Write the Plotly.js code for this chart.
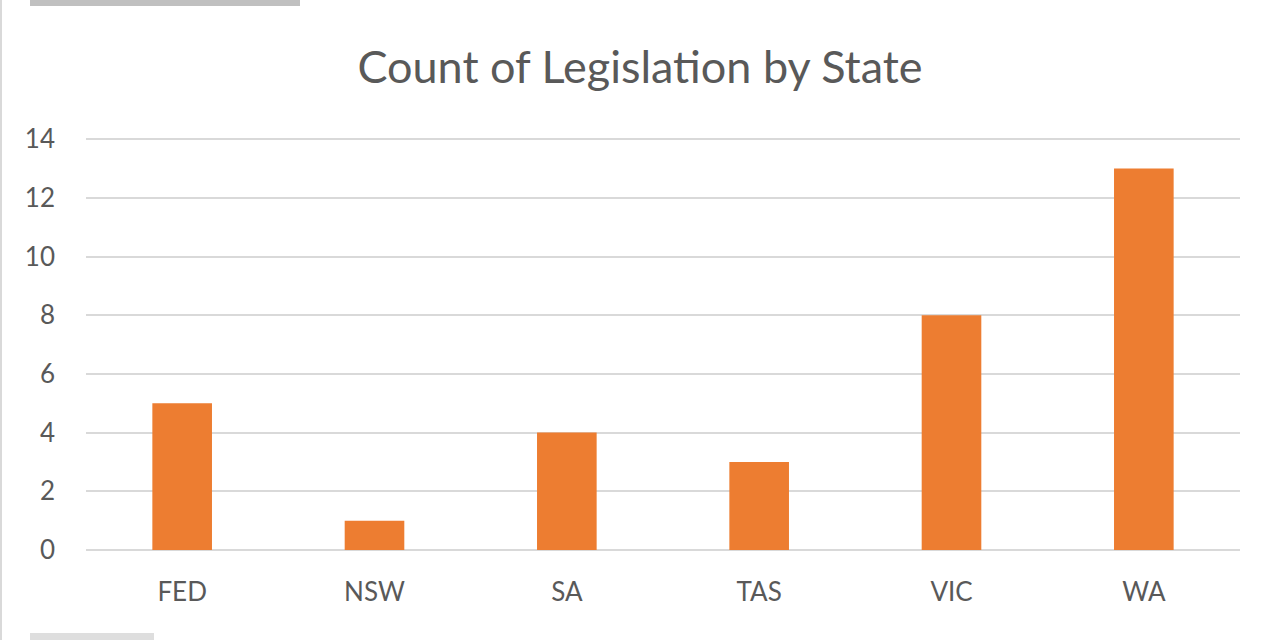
<!DOCTYPE html>
<html>
<head>
<meta charset="utf-8">
<script src="https://cdn.plot.ly/plotly-3.0.1.min.js"></script>
<style>
  html, body { margin: 0; padding: 0; background: #ffffff; }
  #plot { width: 1280px; height: 640px; }
</style>
</head>
<body>
<div id="plot"></div>
<script>
  var STATES = ["FED", "NSW", "SA", "TAS", "VIC", "WA"];
  var COUNTS = [5, 1, 4, 3, 8, 13];
  var Y_TICKS = [0, 2, 4, 6, 8, 10, 12, 14];

  var TEXT = "#595959";
  var GRID = "#d9d9d9";
  var ORANGE = "#ed7d31";

  var trace = {
    x: STATES,
    y: COUNTS,
    type: "bar",
    marker: { color: ORANGE },
    hoverinfo: "x+y"
  };

  var layout = {
    width: 1280,
    height: 640,
    title: {
      text: "Count of Legislation by State",
      font: { family: "Lato, 'Open Sans', sans-serif", size: 45, color: TEXT },
      x: 0.5,
      xanchor: "center",
      y: 1 - 67 / 640,
      yanchor: "middle"
    },
    font: { family: "Lato, 'Open Sans', sans-serif", color: TEXT },
    margin: { l: 86, r: 40, t: 138, b: 90 },
    bargap: 0.69,
    xaxis: {
      showgrid: false,
      showline: false,
      zeroline: false,
      ticks: "",
      ticklabelstandoff: 24,
      tickfont: { size: 26, color: TEXT }
    },
    yaxis: {
      // etwas über 14, damit die oberste Gitterlinie gezeichnet wird
      range: [0, 14.04],
      tickvals: Y_TICKS,
      showgrid: true,
      gridcolor: GRID,
      gridwidth: 2,
      zeroline: true,
      zerolinecolor: GRID,
      zerolinewidth: 2,
      showline: false,
      ticks: "",
      ticklabelstandoff: 30,
      tickfont: { size: 26, color: TEXT }
    },
    shapes: [
      // kleine graue Balken oben/unten links, linker Rand
      { type: "rect", xref: "paper", yref: "paper",
        x0: -56 / 1154, x1: 214 / 1154, y0: 1 + 132 / 412, y1: 1 + 138 / 412,
        fillcolor: "#c0c0c0", line: { width: 0 } },
      { type: "rect", xref: "paper", yref: "paper",
        x0: -56 / 1154, x1: 68 / 1154, y0: -90 / 412, y1: -83 / 412,
        fillcolor: "#dedede", line: { width: 0 } },
      { type: "line", xref: "paper", yref: "paper",
        x0: -85 / 1154, x1: -85 / 1154, y0: -90 / 412, y1: 1 + 138 / 412,
        line: { color: "#d9d9d9", width: 2 } }
    ],
    showlegend: false,
    paper_bgcolor: "#ffffff",
    plot_bgcolor: "#ffffff"
  };

  Plotly.newPlot("plot", [trace], layout, { displayModeBar: false, responsive: false });
</script>
</body>
</html>
